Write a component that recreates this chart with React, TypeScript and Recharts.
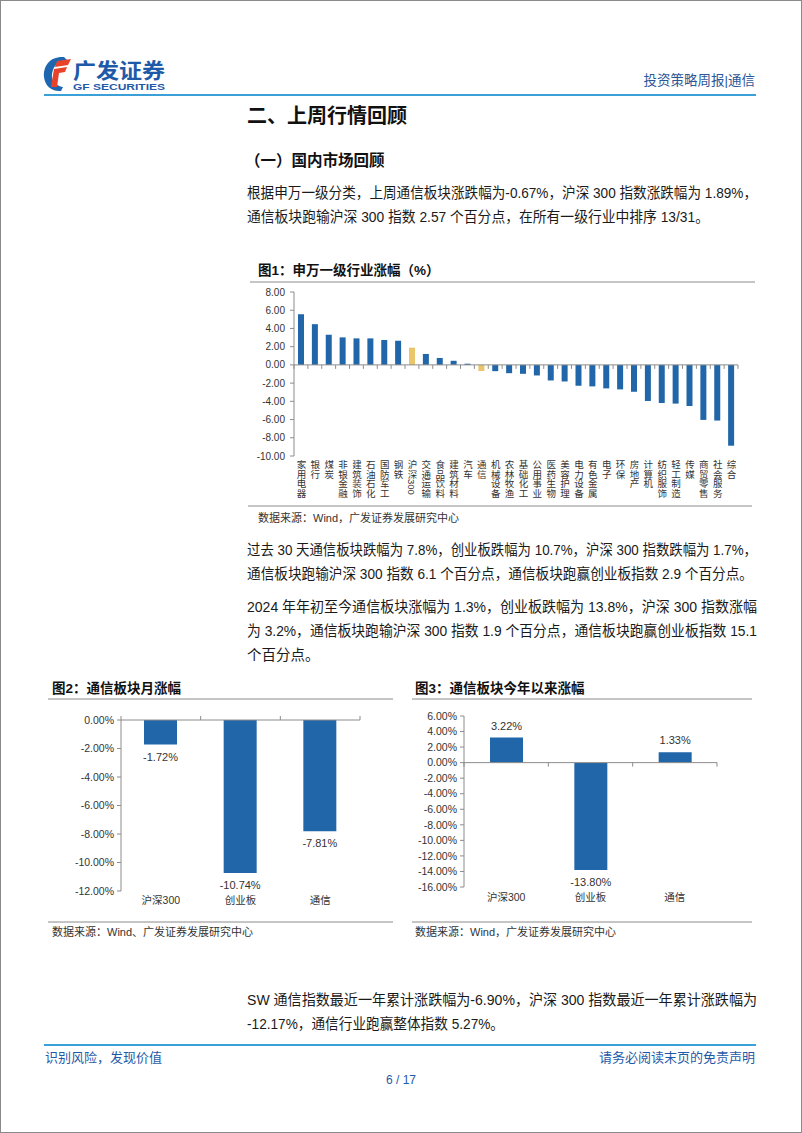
import React from 'react';
import { BarChart, Bar, XAxis, YAxis, Cell, ReferenceLine, LabelList } from 'recharts';

// 图1 申万一级行业涨幅（%）
const industries = ['家用电器', '银行', '煤炭', '非银金融', '建筑装饰', '石油石化', '国防军工', '钢铁', '沪深300', '交通运输', '食品饮料', '建筑材料', '汽车', '通信', '机械设备', '农林牧渔', '基础化工', '公用事业', '医药生物', '美容护理', '电力设备', '有色金属', '电子', '环保', '房地产', '计算机', '纺织服饰', '轻工制造', '传媒', '商贸零售', '社会服务', '综合'];
const weeklyChange = [5.56, 4.47, 3.31, 3.02, 2.91, 2.91, 2.73, 2.65, 1.89, 1.2, 0.76, 0.45, 0.13, -0.67, -0.69, -0.91, -0.98, -1.16, -1.71, -1.82, -2.29, -2.36, -2.58, -2.69, -2.95, -3.96, -4.18, -4.25, -4.51, -6.04, -6.11, -8.87];
const highlighted = ['沪深300', '通信'];
const industryTicks = [-10, -8, -6, -4, -2, 0, 2, 4, 6, 8];

// 图2 / 图3
const boards = ['沪深300', '创业板', '通信'];
const monthlyChange = [-1.72, -10.74, -7.81];
const monthlyTicks = [-12, -10, -8, -6, -4, -2, 0];
const ytdChange = [3.22, -13.8, 1.33];
const ytdTicks = [-16, -14, -12, -10, -8, -6, -4, -2, 0, 2, 4, 6];

const industryData = industries.map((name, i) => ({ name, value: weeklyChange[i] }));
const monthlyData = boards.map((name, i) => ({ name, value: monthlyChange[i] }));
const ytdData = boards.map((name, i) => ({ name, value: ytdChange[i] }));

const BLUE = '#2166a9';
const GOLD = '#eac56c';
const AXIS = '#8c8c8c';
const FONT = '"Liberation Sans", "Noto Sans CJK SC", sans-serif';

// zero line with excel-style ticks at category boundaries
const zeroAxis = (count: number, dir: number) => (p: any) => {
  const x1 = Number(p.x1), x2 = Number(p.x2), y = Number(p.y1);
  const step = (x2 - x1) / count;
  return (
    <g>
      <line x1={x1} y1={y} x2={x2} y2={y} stroke={AXIS} strokeWidth={1} />
      {Array.from({ length: count + 1 }, (_, i) => (
        <line key={i} x1={x1 + i * step} x2={x1 + i * step} y1={y} y2={y + dir * 4} stroke={AXIS} strokeWidth={1} />
      ))}
    </g>
  );
};

const VerticalTick = (p: any) => (
  <text x={p.x} y={p.y} fontSize={9.5} fill="#333" textAnchor="start"
    style={{ writingMode: 'vertical-rl', fontFamily: FONT }}>
    {p.payload.value}
  </text>
);

const pctLabel = (p: any) => {
  const { x, y, width, height, value } = p;
  const top = Math.min(y, y + height);
  const bottom = Math.max(y, y + height);
  const ty = value >= 0 ? top - 12 : bottom + 12;
  return (
    <text x={x + width / 2} y={ty} textAnchor="middle" dominantBaseline="central" fontSize={11} fill="#333" style={{ fontFamily: FONT }}>
      {`${Number(value).toFixed(2)}%`}
    </text>
  );
};

// page text helper
const T = ({ x, y, children, size = 14.5, weight = 400, fill = '#1a1a1a', width, anchor = 'start' }: any) => (
  <text x={x} y={y} fontSize={size} fontWeight={weight} fill={fill} dominantBaseline="central" textAnchor={anchor}
    textLength={width} lengthAdjust={width ? 'spacingAndGlyphs' : undefined} style={{ fontFamily: FONT }}>
    {children}
  </text>
);

const IndustryChart = () => (
  <BarChart width={505} height={225} data={industryData} margin={{ top: 10, right: 17, left: 0, bottom: 0 }} barSize={6}>
    <XAxis dataKey="name" interval={0} axisLine={false} tickLine={false} tickSize={0} tickMargin={4} height={51} tick={<VerticalTick />} />
    <YAxis domain={[-10, 8]} ticks={industryTicks} interval={0} width={44} stroke={AXIS} tickSize={4} tickMargin={5}
      tick={{ fontSize: 10, fill: '#333', fontFamily: FONT }} tickFormatter={(v: number) => v.toFixed(2)} />
    <Bar dataKey="value" isAnimationActive={false}>
      {industryData.map((d) => (
        <Cell key={d.name} fill={highlighted.includes(d.name) ? GOLD : BLUE} />
      ))}
    </Bar>
    <ReferenceLine y={0} shape={zeroAxis(industries.length, 1)} />
  </BarChart>
);

const BoardChart = ({ data, domain, ticks, yWidth, top, right, height, tickDir, labelGap }: any) => (
  <BarChart width={345} height={height} data={data} margin={{ top, right, left: 0, bottom: 0 }} barSize={33}>
    <XAxis dataKey="name" interval={0} axisLine={false} tickLine={false} tickSize={0} tickMargin={labelGap} height={20}
      tick={{ fontSize: 10.5, fill: '#333', fontFamily: FONT }} />
    <YAxis domain={domain} ticks={ticks} interval={0} width={yWidth} stroke={AXIS} tickSize={4} tickMargin={3}
      tick={{ fontSize: 10.5, fill: '#333', fontFamily: FONT }} tickFormatter={(v: number) => `${v.toFixed(2)}%`} />
    <Bar dataKey="value" fill={BLUE} isAnimationActive={false}>
      <LabelList dataKey="value" content={pctLabel} />
    </Bar>
    <ReferenceLine y={0} shape={zeroAxis(data.length, tickDir)} />
  </BarChart>
);

export default function App() {
  return (
    <div style={{ position: 'absolute', left: 0, top: 0, width: 802, height: 1133, background: '#fff', boxSizing: 'border-box', border: '1px solid #8a8a8a', overflow: 'hidden', fontFamily: FONT }}>
      <svg width={802} height={1133} style={{ position: 'absolute', left: -1, top: -1 }}>
        {/* logo */}
        <path d="M64 57 C51 56 43 65 44 77 C45 86 52 92 61 91 L63 87 C56 86 51 81 52 74 C53 66 58 61 67 60 Z" fill="#1f66b0" />
        <path d="M57 61 L71 59 L68 65 L55 67 Z" fill="#e8432a" />
        <path d="M54 69 L67 67 L65 72 L59 73 L57 87 L51 87 Z" fill="#e8432a" />
        <T x={73} y={70} size={21} weight={700} fill="#1f5aa8" width={92}>广发证券</T>
        <T x={73} y={86} size={9.5} weight={700} fill="#1f5aa8" width={92}>GF SECURITIES</T>
        <T x={755} y={80} size={13.5} fill="#2b5797" anchor="end">投资策略周报|通信</T>
        <line x1={44} x2={756} y1={95} y2={95} stroke="#3ca0d8" strokeWidth={2} />

        {/* section */}
        <T x={247} y={116} size={20} weight={700} fill="#111">二、上周行情回顾</T>
        <T x={245} y={160} size={15.5} weight={700} fill="#111">（一）国内市场回顾</T>
        <T x={247} y={193} width={510}>根据申万一级分类，上周通信板块涨跌幅为-0.67%，沪深 300 指数涨跌幅为 1.89%，</T>
        <T x={247} y={217} width={462}>通信板块跑输沪深 300 指数 2.57 个百分点，在所有一级行业中排序 13/31。</T>

        {/* fig 1 */}
        <T x={258} y={270} size={13.5} weight={700} fill="#111">图1：申万一级行业涨幅（%）</T>
        <line x1={250} x2={755} y1={282} y2={282} stroke={AXIS} strokeWidth={1.2} />
        <line x1={248} x2={752} y1={506} y2={506} stroke={AXIS} strokeWidth={1.2} />
        <T x={258} y={518} size={11} fill="#333">数据来源：Wind，广发证券发展研究中心</T>

        <T x={247} y={550} width={510}>过去 30 天通信板块跌幅为 7.8%，创业板跌幅为 10.7%，沪深 300 指数跌幅为 1.7%，</T>
        <T x={247} y={574} width={506}>通信板块跑输沪深 300 指数 6.1 个百分点，通信板块跑赢创业板指数 2.9 个百分点。</T>
        <T x={247} y={607} width={510}>2024 年年初至今通信板块涨幅为 1.3%，创业板跌幅为 13.8%，沪深 300 指数涨幅</T>
        <T x={247} y={631} width={510}>为 3.2%，通信板块跑输沪深 300 指数 1.9 个百分点，通信板块跑赢创业板指数 15.1</T>
        <T x={247} y={655}>个百分点。</T>

        {/* fig 2 / fig 3 */}
        <T x={52} y={688} size={13.5} weight={700} fill="#111">图2：通信板块月涨幅</T>
        <line x1={48} x2={393} y1={699} y2={699} stroke={AXIS} strokeWidth={1.2} />
        <line x1={48} x2={393} y1={922} y2={922} stroke={AXIS} strokeWidth={1.2} />
        <T x={52} y={932} size={11} fill="#333">数据来源：Wind、广发证券发展研究中心</T>
        <T x={415} y={688} size={13.5} weight={700} fill="#111">图3：通信板块今年以来涨幅</T>
        <line x1={412} x2={752} y1={699} y2={699} stroke={AXIS} strokeWidth={1.2} />
        <line x1={412} x2={752} y1={922} y2={922} stroke={AXIS} strokeWidth={1.2} />
        <T x={415} y={932} size={11} fill="#333">数据来源：Wind，广发证券发展研究中心</T>

        <T x={247} y={1000} width={510}>SW 通信指数最近一年累计涨跌幅为-6.90%，沪深 300 指数最近一年累计涨跌幅为</T>
        <T x={247} y={1024} width={257}>-12.17%，通信行业跑赢整体指数 5.27%。</T>

        {/* footer */}
        <line x1={44} x2={756} y1={1045} y2={1045} stroke="#3ca0d8" strokeWidth={2} />
        <T x={45} y={1057} size={13} fill="#1f5aa8">识别风险，发现价值</T>
        <T x={755} y={1057} size={13} fill="#1f5aa8" anchor="end">请务必阅读末页的免责声明</T>
        <T x={401} y={1080} size={12} fill="#1f5aa8" anchor="middle">6 / 17</T>
      </svg>

      <div style={{ position: 'absolute', left: 249, top: 281 }}>
        <IndustryChart />
      </div>
      <div style={{ position: 'absolute', left: 47, top: 704 }}>
        <BoardChart data={monthlyData} domain={[-12, 0]} ticks={monthlyTicks} yWidth={73} top={15} right={33} height={206} tickDir={-1} labelGap={6} />
      </div>
      <div style={{ position: 'absolute', left: 409, top: 704 }}>
        <BoardChart data={ytdData} domain={[-16, 6]} ticks={ytdTicks} yWidth={54} top={11} right={38} height={202} tickDir={1} labelGap={7} />
      </div>
    </div>
  );
}
